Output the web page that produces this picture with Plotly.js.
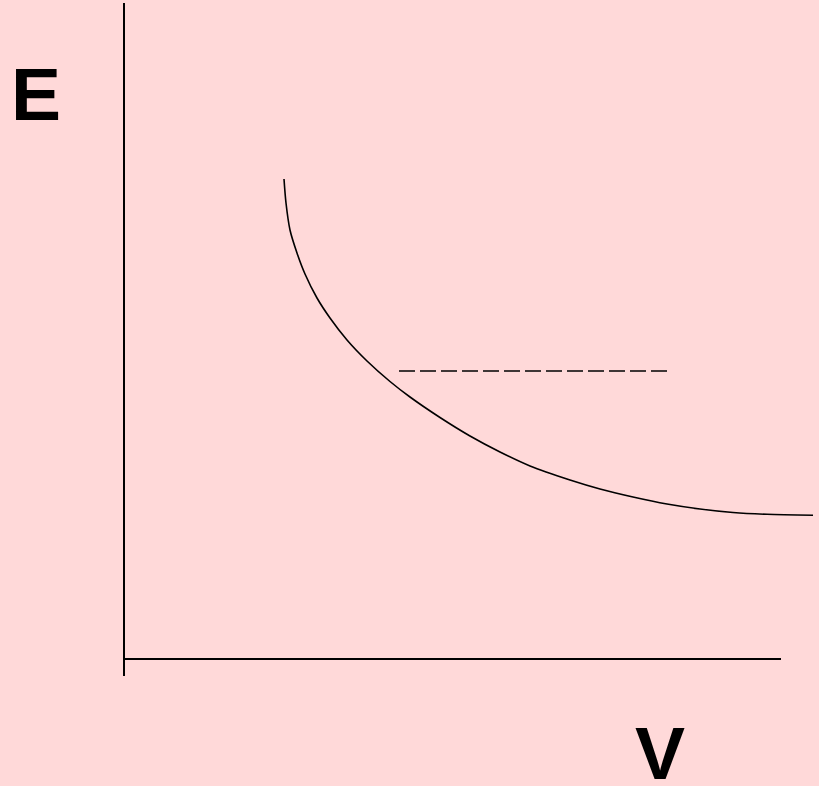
<!DOCTYPE html>
<html>
<head>
<meta charset="utf-8">
<script src="https://cdn.plot.ly/plotly-3.0.1.min.js"></script>
<style>html,body{margin:0;padding:0;background:#FFD9D9;}#chart{width:819px;height:786px;}</style>
</head>
<body>
<div id="chart"></div>
<script>
// Curve E(V), in chart units (origin at the axes corner)
var curveV = [160, 162, 166, 173, 181, 193, 206, 223, 243, 266, 286, 316, 346, 376, 406, 446, 476, 509, 543, 576, 609, 643, 689];
var curveE = [480, 456, 429, 406, 385, 361, 341, 319, 298, 277.5, 262, 241.5, 223, 207, 193, 179, 170, 162, 155, 150, 146.5, 144.7, 143.7];
// dashed level line
var dashV = [275, 545];
var dashE = [288, 288];
// axes
var axisXV = [0, 657];
var axisXE = [0, 0];
var axisYV = [0, 0];
var axisYE = [-17, 656];
var labels = ["E", "V"];
var labelV = [-88, 536];
var labelE = [565, -94];

var traces = [
  {x: axisYV, y: axisYE, mode: 'lines', line: {color: '#000', width: 2}, hoverinfo: 'skip'},
  {x: axisXV, y: axisXE, mode: 'lines', line: {color: '#000', width: 2}, hoverinfo: 'skip'},
  {x: curveV, y: curveE, mode: 'lines', line: {color: '#000', width: 1.6, shape: 'spline', smoothing: 0.8}, hoverinfo: 'skip'},
  {x: dashV, y: dashE, mode: 'lines', line: {color: '#000', width: 1.6, dash: '16px,5px'}, hoverinfo: 'skip'}
];

var layout = {
  width: 819, height: 786,
  margin: {l: 0, r: 0, t: 0, b: 0},
  paper_bgcolor: '#FFD9D9',
  plot_bgcolor: '#FFD9D9',
  showlegend: false,
  xaxis: {range: [-124, 695], visible: false, fixedrange: true},
  yaxis: {range: [-127, 659], visible: false, fixedrange: true},
  annotations: labels.map(function(t, i){
    return {x: labelV[i], y: labelE[i], xref: 'x', yref: 'y', text: '<b>' + t + '</b>', showarrow: false,
      font: {family: 'Liberation Sans, Arial, sans-serif', size: 75, color: '#000'}, xanchor: 'center', yanchor: 'middle'};
  })
};
Plotly.newPlot('chart', traces, layout, {staticPlot: true, displayModeBar: false});
</script>
</body>
</html>
